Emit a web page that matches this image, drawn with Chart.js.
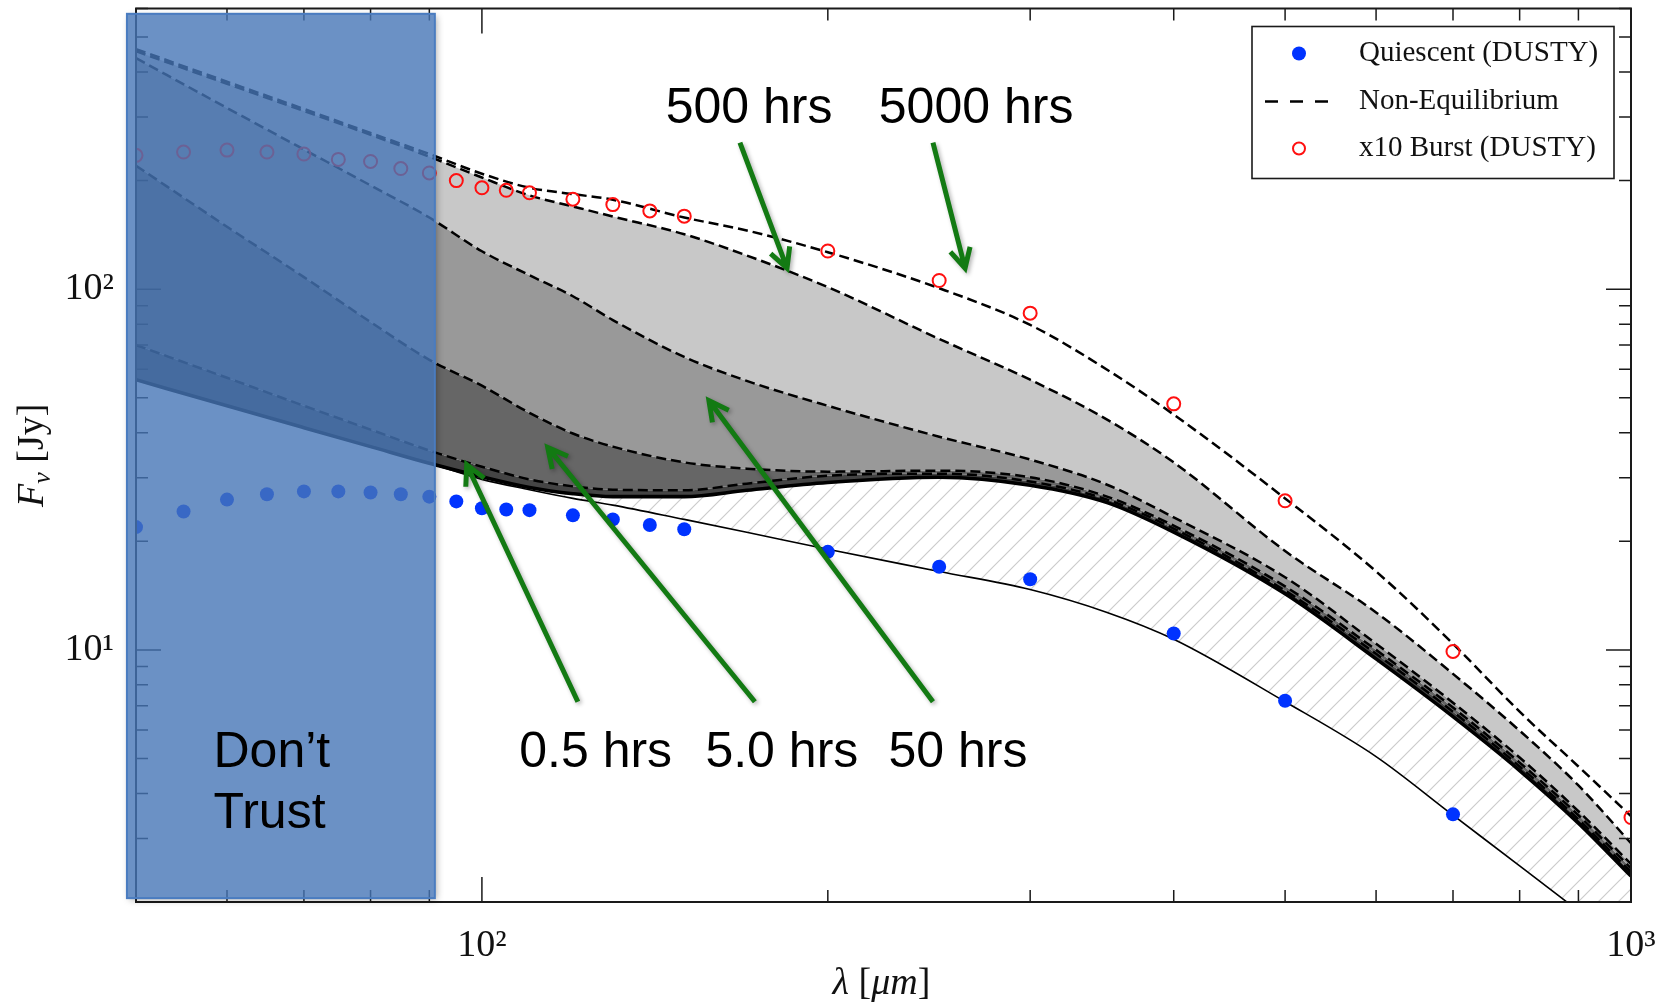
<!DOCTYPE html>
<html>
<head>
<meta charset="utf-8">
<script src="https://cdn.jsdelivr.net/npm/chart.js@4.4.1/dist/chart.umd.min.js"></script>
<style>
  html, body { margin: 0; padding: 0; background: #fff; }
  #wrap { width: 1658px; height: 1005px; }
</style>
</head>
<body>
<div id="wrap"><canvas id="sed" width="1658" height="1005"></canvas></div>
<script>
// wavelength grid (micron) the model curves are read on
const lambdaGrid = [50, 60, 70, 80, 90, 100, 110, 120, 130, 150, 170, 200, 250, 300, 350, 400, 500, 600, 700, 800, 900, 1000];

// non-equilibrium models, F_nu in Jy
const hrs5000 = [463, 376, 316, 271, 237, 209, 191, 183.5, 177, 158, 145.5, 126.6, 100.6, 79.6, 59.8, 44.9, 26.3, 16.5, 10.4, 6.74, 4.75, 3.46];
const hrs500 = [457, 371, 312, 268, 233, 204, 182, 169.6, 159, 142, 124, 101.3, 72.8, 56.1, 43.5, 33.1, 18.8, 12.7, 8.58, 5.97, 4.21, 2.91];
const hrs50 = [437, 318, 244, 194, 158, 127.4, 109.3, 95.6, 82.1, 64.9, 55.7, 47.5, 39.0, 33.7, 28.7, 23.3, 15.9, 10.4, 7.14, 5.03, 3.57, 2.55];
const hrs5 = [220, 149, 108, 81.1, 63.7, 54.0, 45.4, 39.8, 36.6, 33.1, 31.8, 31.2, 31.4, 30.1, 26.6, 22.1, 15.0, 10.0, 6.92, 4.87, 3.48, 2.48];
const hrs05 = [70.0, 56.8, 47.5, 40.8, 35.7, 32.2, 29.7, 28.4, 27.8, 27.7, 28.9, 30.4, 30.8, 29.3, 26.1, 21.7, 14.6, 9.75, 6.74, 4.75, 3.39, 2.42];
const hrs0 = [56.1, 47.5, 41.3, 36.6, 32.9, 30.2, 28.2, 27.1, 26.6, 26.6, 27.7, 29.1, 30.1, 28.6, 25.6, 21.2, 14.3, 9.44, 6.53, 4.63, 3.31, 2.36];
const quiescentModel = [56.1, 47.5, 41.3, 36.6, 32.9, 29.7, 27.8, 26.3, 25.2, 23.0, 21.2, 19.0, 16.5, 14.7, 12.7, 10.7, 7.18, 5.06, 3.48, 2.52, 1.89, 1.45];

// DUSTY points
const dustyLambda = [50, 55, 60, 65, 70, 75, 80, 85, 90, 95, 100, 105, 110, 120, 130, 140, 150, 200, 250, 300, 400, 500, 700];
const quiescentFlux = [21.9, 24.2, 26.1, 27.0, 27.5, 27.5, 27.3, 27.0, 26.6, 25.8, 24.7, 24.5, 24.4, 23.6, 23.0, 22.2, 21.6, 18.7, 17.0, 15.7, 11.1, 7.23, 3.50];
const burstLambda = [50, 55, 60, 65, 70, 75, 80, 85, 90, 95, 100, 105, 110, 120, 130, 140, 150, 200, 250, 300, 400, 500, 700, 1000];
const burstFlux = [235, 240, 243, 240, 237, 229, 226, 216, 210, 200, 191, 188, 185, 177.6, 171.6, 164.8, 159.4, 127.6, 105.7, 85.8, 48.1, 25.9, 9.9, 3.43];

// axis ticks
const xTicks = [50, 60, 70, 80, 90, 100, 200, 300, 400, 500, 600, 700, 800, 900, 1000];
const xMajor = [100, 1000];
const xMajorLabels = ['10\u00b2', '10\u00b3'];
const yTicks = [2, 3, 4, 5, 6, 7, 8, 9, 10, 20, 30, 40, 50, 60, 70, 80, 90, 100, 200, 300, 400, 500, 600];
const yMajor = [10, 100];
const yMajorLabels = ['10\u00b9', '10\u00b2'];

// annotations, placed in data space (lambda, Jy)
const notes = [
  { text: '500 hrs', at: [170.8, 289] },
  { text: '5000 hrs', at: [269.2, 289] },
  { text: '0.5 hrs', at: [125.6, 4.72] },
  { text: '5.0 hrs', at: [182.4, 4.72] },
  { text: '50 hrs', at: [259.6, 4.72] }
];
const arrows = [
  { from: [167.7, 254.7], to: [184.3, 114.3] },
  { from: [246.9, 254.7], to: [263.3, 114.3] },
  { from: [121.2, 7.18], to: [97.0, 32.6] },
  { from: [172.8, 7.18], to: [114.1, 36.4] },
  { from: [246.9, 7.18], to: [157.6, 49.1] }
];
const trustZone = { x: [49.1, 91], y: [2.05, 580] };
const trustText = [{ text: 'Don\u2019t', at: [58.4, 4.72] }, { text: 'Trust', at: [58.4, 3.2] }];

const ctx0 = document.getElementById('sed').getContext('2d');

function hatch() {
  const c = document.createElement('canvas');
  c.width = 20; c.height = 20;
  const g = c.getContext('2d');
  g.strokeStyle = '#cccccc';
  g.lineWidth = 1.2;
  g.beginPath();
  g.moveTo(0, 20); g.lineTo(20, 0);
  g.moveTo(-2, 2); g.lineTo(2, -2);
  g.moveTo(18, 22); g.lineTo(22, 18);
  g.stroke();
  return ctx0.createPattern(c, 'repeat');
}

function curve(ys) { return lambdaGrid.map((l, i) => ({ x: l, y: ys[i] })); }
function pts(xs, ys) { return xs.map((l, i) => ({ x: l, y: ys[i] })); }

const base = { pointRadius: 0, borderColor: '#000', cubicInterpolationMode: 'monotone', order: 2 };
const dash = { borderDash: [10, 5], borderWidth: 2.5 };

function majorLabel(v, majors, labels) {
  const i = majors.indexOf(v);
  return i >= 0 ? labels[i] : '';
}

function richText(ctx, parts, x, y) {
  // parts: [text, font, dy]
  let w = 0;
  parts.forEach(p => { ctx.font = p[1]; w += ctx.measureText(p[0]).width; });
  let cx = x - w / 2;
  parts.forEach(p => {
    ctx.font = p[1];
    ctx.fillText(p[0], cx, y + (p[2] || 0));
    cx += ctx.measureText(p[0]).width;
  });
}

function drawArrow(ctx, x0, y0, x1, y1) {
  const ang = Math.atan2(y1 - y0, x1 - x0);
  const h = 22, s = 0.48;
  ctx.beginPath();
  ctx.moveTo(x0, y0);
  ctx.lineTo(x1, y1);
  ctx.moveTo(x1 - h * Math.cos(ang - s), y1 - h * Math.sin(ang - s));
  ctx.lineTo(x1, y1);
  ctx.lineTo(x1 - h * Math.cos(ang + s), y1 - h * Math.sin(ang + s));
  ctx.stroke();
}

const decor = {
  id: 'decor',
  afterDatasetsDraw(chart) {
    const ctx = chart.ctx, a = chart.chartArea;
    const xs = chart.scales.x, ys = chart.scales.y;
    const P = (l, f) => [xs.getPixelForValue(l), ys.getPixelForValue(f)];
    ctx.save();

    // inward ticks on all sides + frame
    ctx.strokeStyle = '#1a1a1a';
    ctx.lineWidth = 1.5;
    ctx.beginPath();
    xTicks.forEach(v => {
      const p = xs.getPixelForValue(v);
      const len = xMajor.includes(v) ? 25 : 12;
      ctx.moveTo(p, a.bottom); ctx.lineTo(p, a.bottom - len);
      ctx.moveTo(p, a.top); ctx.lineTo(p, a.top + len);
    });
    yTicks.forEach(v => {
      const p = ys.getPixelForValue(v);
      const len = yMajor.includes(v) ? 25 : 12;
      ctx.moveTo(a.left, p); ctx.lineTo(a.left + len, p);
      ctx.moveTo(a.right, p); ctx.lineTo(a.right - len, p);
    });
    ctx.stroke();
    ctx.lineWidth = 2;
    ctx.strokeRect(a.left, a.top, a.right - a.left, a.bottom - a.top);

    // "Don't Trust" band
    const [rx0, ry0] = P(trustZone.x[0], trustZone.y[1]);
    const [rx1, ry1] = P(trustZone.x[1], trustZone.y[0]);
    ctx.save();
    ctx.beginPath();
    ctx.rect(0, 0, chart.width, chart.height);
    ctx.rect(rx0, ry0, rx1 - rx0, ry1 - ry0);
    ctx.clip('evenodd');
    ctx.shadowColor = 'rgba(0,0,0,0.35)';
    ctx.shadowBlur = 7;
    ctx.shadowOffsetX = 2;
    ctx.shadowOffsetY = 2;
    ctx.fillStyle = '#4f7fb8';
    ctx.fillRect(rx0, ry0, rx1 - rx0, ry1 - ry0);
    ctx.restore();
    ctx.fillStyle = 'rgba(70,118,182,0.8)';
    ctx.fillRect(rx0, ry0, rx1 - rx0, ry1 - ry0);
    ctx.strokeStyle = '#4a7cc0';
    ctx.lineWidth = 2;
    ctx.strokeRect(rx0, ry0, rx1 - rx0, ry1 - ry0);

    ctx.fillStyle = '#000';
    ctx.font = '50px "Liberation Sans", Arial, sans-serif';
    ctx.textBaseline = 'alphabetic';
    ctx.textAlign = 'left';
    trustText.forEach(t => { const [x, y] = P(t.at[0], t.at[1]); ctx.fillText(t.text, x, y); });

    // labels
    ctx.textAlign = 'center';
    notes.forEach(n => { const [x, y] = P(n.at[0], n.at[1]); ctx.fillText(n.text, x, y); });

    // arrows
    ctx.save();
    ctx.strokeStyle = '#137a13';
    ctx.lineWidth = 5;
    ctx.lineJoin = 'miter';
    ctx.shadowColor = 'rgba(0,0,0,0.3)';
    ctx.shadowBlur = 4;
    ctx.shadowOffsetX = 2;
    ctx.shadowOffsetY = 2;
    arrows.forEach(ar => {
      const [x0, y0] = P(ar.from[0], ar.from[1]);
      const [x1, y1] = P(ar.to[0], ar.to[1]);
      drawArrow(ctx, x0, y0, x1, y1);
    });
    ctx.restore();

    // legend
    const lw = 362, lh = 152;
    const lx = a.right - 17 - lw, ly = a.top + 18;
    ctx.fillStyle = '#fff';
    ctx.fillRect(lx, ly, lw, lh);
    ctx.strokeStyle = '#1a1a1a';
    ctx.lineWidth = 1.6;
    ctx.strokeRect(lx, ly, lw, lh);
    const ds = chart.data.datasets;
    const rows = [ly + 27, ly + 75, ly + 122];
    ctx.fillStyle = '#0033ff';
    ctx.beginPath(); ctx.arc(lx + 47, rows[0], 7, 0, Math.PI * 2); ctx.fill();
    ctx.strokeStyle = '#000';
    ctx.lineWidth = 2.5;
    ctx.setLineDash([13, 12]);
    ctx.beginPath(); ctx.moveTo(lx + 13, rows[1]); ctx.lineTo(lx + 80, rows[1]); ctx.stroke();
    ctx.setLineDash([]);
    ctx.strokeStyle = '#ff1010';
    ctx.lineWidth = 2;
    ctx.beginPath(); ctx.arc(lx + 47, rows[2], 6, 0, Math.PI * 2); ctx.stroke();
    ctx.fillStyle = '#111';
    ctx.font = '29px "Liberation Serif", serif';
    ctx.textAlign = 'left';
    ctx.textBaseline = 'middle';
    ctx.fillText(ds[0].label, lx + 107, rows[0]);
    ctx.fillText(ds[2].label, lx + 107, rows[1]);
    ctx.fillText(ds[1].label, lx + 107, rows[2]);

    // axis titles
    ctx.fillStyle = '#111';
    ctx.textBaseline = 'alphabetic';
    ctx.textAlign = 'left';
    const it = 'italic 38px "Liberation Serif", serif', up = '38px "Liberation Serif", serif';
    richText(ctx, [['\u03bb', it], [' [', up], ['\u03bcm', it], [']', up]], (a.left + a.right) / 2 - 2, 994);
    ctx.save();
    ctx.translate(43, (a.top + a.bottom) / 2);
    ctx.rotate(-Math.PI / 2);
    richText(ctx, [['F', it], ['\u03bd', 'italic 26px "Liberation Serif", serif', 7], [' [Jy]', up]], 0, 0);
    ctx.restore();

    ctx.restore();
  }
};

new Chart(ctx0, {
  type: 'line',
  data: {
    datasets: [
      { label: 'Quiescent (DUSTY)', data: pts(dustyLambda, quiescentFlux), showLine: false,
        pointRadius: 7, pointBackgroundColor: '#0033ff', pointBorderWidth: 0, order: 0, clip: 0 },
      { label: 'x10 Burst (DUSTY)', data: pts(burstLambda, burstFlux), showLine: false,
        pointRadius: 6.5, pointBackgroundColor: 'rgba(0,0,0,0)', pointBorderColor: '#ff1010',
        pointBorderWidth: 2, order: 0, clip: 0 },
      Object.assign({ label: 'Non-Equilibrium', data: curve(hrs5000), fill: false }, base, dash),
      Object.assign({ label: '500 hrs', data: curve(hrs500), fill: '+1', backgroundColor: '#c8c8c8' }, base, dash),
      Object.assign({ label: '50 hrs', data: curve(hrs50), fill: '+1', backgroundColor: '#999999' }, base, dash),
      Object.assign({ label: '5.0 hrs', data: curve(hrs5), fill: '+1', backgroundColor: '#666666' }, base, dash),
      Object.assign({ label: '0.5 hrs', data: curve(hrs05), fill: '+1', backgroundColor: '#444444' }, base, dash),
      Object.assign({ label: 'burst', data: curve(hrs0), fill: '+1', backgroundColor: hatch(), borderWidth: 3.6 }, base),
      Object.assign({ label: 'quiescent model', data: curve(quiescentModel), fill: false, borderWidth: 1.6 }, base)
    ]
  },
  options: {
    responsive: false,
    animation: false,
    devicePixelRatio: 1,
    layout: { padding: { top: 7, right: 27, left: 0, bottom: 0 } },
    plugins: {
      legend: { display: false },
      tooltip: { enabled: false },
      filler: { drawTime: 'beforeDatasetsDraw' }
    },
    scales: {
      x: {
        type: 'logarithmic',
        min: 50, max: 1000,
        grid: { display: false, drawTicks: false },
        border: { display: false },
        afterBuildTicks: s => { s.ticks = xTicks.map(v => ({ value: v })); },
        afterFit: s => { s.height = 103; s.paddingLeft = 0; s.paddingRight = 0; },
        ticks: {
          autoSkip: false, maxRotation: 0, padding: 21,
          color: '#111',
          font: { family: '"Liberation Serif", serif', size: 38 },
          callback: v => majorLabel(v, xMajor, xMajorLabels)
        }
      },
      y: {
        type: 'logarithmic',
        min: 2, max: 600,
        grid: { display: false, drawTicks: false },
        border: { display: false },
        afterBuildTicks: s => { s.ticks = yTicks.map(v => ({ value: v })); },
        afterFit: s => { s.width = 136; s.paddingTop = 0; s.paddingBottom = 0; },
        ticks: {
          autoSkip: false, padding: 22,
          color: '#111',
          font: { family: '"Liberation Serif", serif', size: 38 },
          callback: v => majorLabel(v, yMajor, yMajorLabels)
        }
      }
    }
  },
  plugins: [decor]
});
</script>
</body>
</html>
